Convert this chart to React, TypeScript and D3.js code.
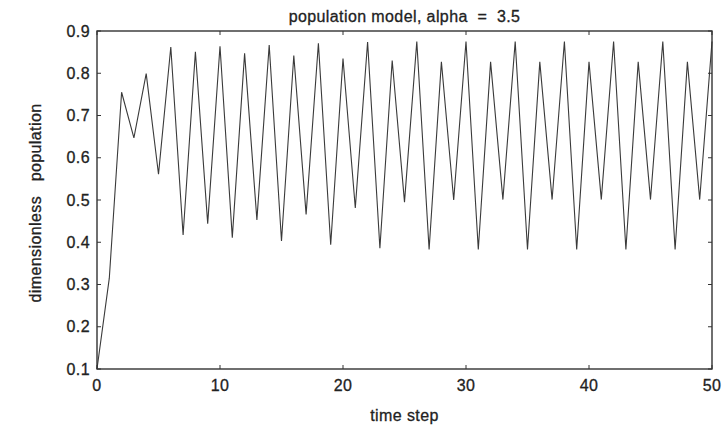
import React from 'react';
import * as d3 from 'd3';

// values, one per time step
const timeSteps = d3.range(0, 51);
const population = [
  0.100, 0.315, 0.755, 0.647, 0.799, 0.561, 0.862, 0.417, 0.851, 0.444,
  0.864, 0.411, 0.847, 0.453, 0.867, 0.403, 0.842, 0.466, 0.871, 0.394,
  0.835, 0.481, 0.874, 0.386, 0.830, 0.495, 0.875, 0.383, 0.827, 0.500,
  0.875, 0.383, 0.827, 0.501, 0.875, 0.383, 0.827, 0.501, 0.875, 0.383,
  0.827, 0.501, 0.875, 0.383, 0.827, 0.501, 0.875, 0.383, 0.827, 0.501,
  0.875,
];
const xTicks = [0, 10, 20, 30, 40, 50];
const yTicks = [0.1, 0.2, 0.3, 0.4, 0.5, 0.6, 0.7, 0.8, 0.9];

const title = 'population model, alpha  =  3.5';
const xLabel = 'time step';
const yLabel = 'dimensionless   population';

function App() {
  const width = 725;
  const height = 430;
  const margin = { top: 31, right: 13, bottom: 61, left: 97 };
  const innerW = width - margin.left - margin.right;
  const innerH = height - margin.top - margin.bottom;

  const x = d3.scaleLinear().domain([0, 50]).range([0, innerW]);
  const y = d3.scaleLinear().domain([0.1, 0.9]).range([innerH, 0]);

  const line = d3
    .line<number>()
    .x((d, i) => x(timeSteps[i]))
    .y((d) => y(d));

  const font = '"Liberation Sans", Arial, Helvetica, sans-serif';
  const ink = '#222';
  const tick = 4;
  // the scan makes the lettering heavy and wide
  const textStyle = {
    fontSize: 16,
    fill: ink,
    stroke: ink,
    strokeWidth: 0.3,
    letterSpacing: 0.4,
    whiteSpace: 'pre' as const,
  };

  return (
    <svg
      width={width}
      height={height}
      style={{ position: 'absolute', left: 0, top: 0, background: '#fff' }}
      fontFamily={font}
    >
      <text x={margin.left + innerW / 2} y={22} textAnchor="middle" style={textStyle}>
        {title}
      </text>
      <g transform={`translate(${margin.left},${margin.top})`}>
        <path d={line(population) || ''} fill="none" stroke="#3a3a3a" strokeWidth={1.1} />
        <rect x={0} y={0} width={innerW} height={innerH} fill="none" stroke="#333" strokeWidth={1.4} />

        {yTicks.map((t) => (
          <g key={'y' + t}>
            <line x1={0} x2={tick} y1={y(t)} y2={y(t)} stroke="#333" />
            <line x1={innerW} x2={innerW - tick} y1={y(t)} y2={y(t)} stroke="#333" />
            <text x={-7} y={y(t)} dy="0.35em" textAnchor="end" style={textStyle}>
              {t.toFixed(1)}
            </text>
          </g>
        ))}

        {xTicks.map((t) => (
          <g key={'x' + t}>
            <line x1={x(t)} x2={x(t)} y1={innerH} y2={innerH - tick} stroke="#333" />
            <line x1={x(t)} x2={x(t)} y1={0} y2={tick} stroke="#333" />
            <text x={x(t)} y={innerH + 22} textAnchor="middle" style={textStyle}>
              {t}
            </text>
          </g>
        ))}

        <text x={innerW / 2} y={innerH + 52} textAnchor="middle" style={textStyle}>
          {xLabel}
        </text>
        <text
          transform={`translate(${-56},${innerH / 2 + 3}) rotate(-90)`}
          textAnchor="middle"
          style={textStyle}
        >
          {yLabel}
        </text>
      </g>
    </svg>
  );
}

export default App;
